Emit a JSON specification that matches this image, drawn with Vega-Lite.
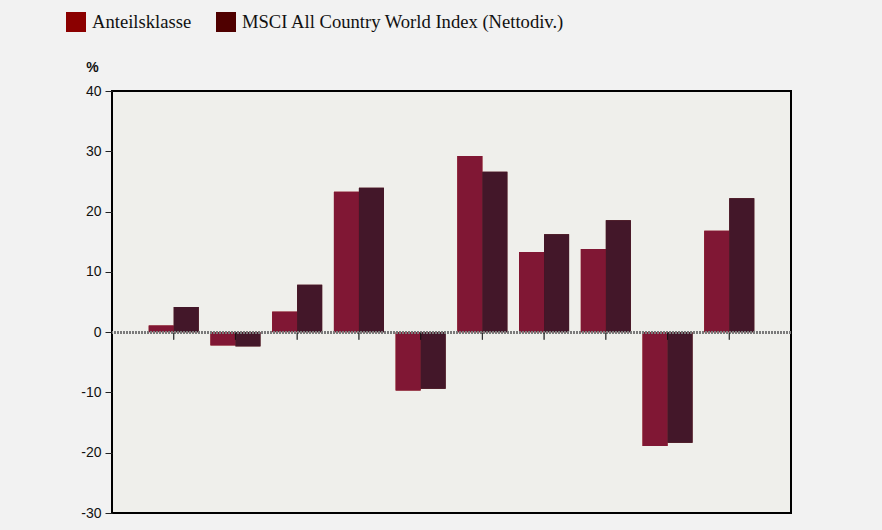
{
  "$schema": "https://vega.github.io/schema/vega-lite/v6.json",
  "width": 679,
  "height": 422,
  "autosize": "none",
  "padding": {"left": 112, "top": 91, "right": 91, "bottom": 17},
  "background": "#f2f2f2",
  "config": {
    "view": {"fill": "#efefeb", "stroke": "#000000", "strokeWidth": 2},
    "axis": {"grid": false}
  },
  "data": {
    "values": [
      {"year": "2014", "series": "Anteilsklasse", "value": 1.1},
      {"year": "2015", "series": "Anteilsklasse", "value": -2.2},
      {"year": "2016", "series": "Anteilsklasse", "value": 3.4},
      {"year": "2017", "series": "Anteilsklasse", "value": 23.3},
      {"year": "2018", "series": "Anteilsklasse", "value": -9.7},
      {"year": "2019", "series": "Anteilsklasse", "value": 29.2},
      {"year": "2020", "series": "Anteilsklasse", "value": 13.3},
      {"year": "2021", "series": "Anteilsklasse", "value": 13.8},
      {"year": "2022", "series": "Anteilsklasse", "value": -18.9},
      {"year": "2023", "series": "Anteilsklasse", "value": 16.8},
      {"year": "2014", "series": "MSCI All Country World Index (Nettodiv.)", "value": 4.16},
      {"year": "2015", "series": "MSCI All Country World Index (Nettodiv.)", "value": -2.36},
      {"year": "2016", "series": "MSCI All Country World Index (Nettodiv.)", "value": 7.86},
      {"year": "2017", "series": "MSCI All Country World Index (Nettodiv.)", "value": 23.97},
      {"year": "2018", "series": "MSCI All Country World Index (Nettodiv.)", "value": -9.41},
      {"year": "2019", "series": "MSCI All Country World Index (Nettodiv.)", "value": 26.6},
      {"year": "2020", "series": "MSCI All Country World Index (Nettodiv.)", "value": 16.25},
      {"year": "2021", "series": "MSCI All Country World Index (Nettodiv.)", "value": 18.54},
      {"year": "2022", "series": "MSCI All Country World Index (Nettodiv.)", "value": -18.36},
      {"year": "2023", "series": "MSCI All Country World Index (Nettodiv.)", "value": 22.2}
    ]
  },
  "encoding": {
    "x": {
      "field": "year",
      "type": "nominal",
      "scale": {"paddingInner": 0.19, "paddingOuter": 0.595},
      "axis": null
    },
    "y": {
      "field": "value",
      "type": "quantitative",
      "scale": {"domain": [-30, 40], "nice": false, "zero": false},
      "axis": {
        "values": [-30, -20, -10, 0, 10, 20, 30, 40],
        "labelExpr": "toString(datum.value)",
        "domain": false,
        "tickSize": 7,
        "tickColor": "#222222",
        "tickWidth": 1,
        "labelFont": "Liberation Sans",
        "labelFontSize": 14,
        "labelColor": "#111111",
        "labelPadding": 4,
        "title": "%",
        "titleAngle": 0,
        "titleFont": "Liberation Sans",
        "titleFontSize": 14,
        "titleFontWeight": "bold",
        "titleColor": "#111111",
        "titleAlign": "center",
        "titleBaseline": "alphabetic",
        "titleX": -20,
        "titleY": -20
      }
    },
    "xOffset": {
      "field": "series",
      "type": "nominal",
      "sort": ["Anteilsklasse", "MSCI All Country World Index (Nettodiv.)"],
      "scale": {"paddingInner": 0, "paddingOuter": 0}
    }
  },
  "layer": [
    {
      "mark": {"type": "bar", "strokeWidth": 0},
      "encoding": {
        "color": {
          "field": "series",
          "type": "nominal",
          "scale": {
            "domain": ["Anteilsklasse", "MSCI All Country World Index (Nettodiv.)"],
            "range": ["#8b0000", "#4f0000"]
          },
          "legend": {
            "title": null,
            "orient": "none",
            "direction": "horizontal",
            "legendX": -46,
            "legendY": -79,
            "padding": 0,
            "symbolType": "square",
            "symbolSize": 400,
            "symbolStrokeWidth": 0,
            "labelFont": "Liberation Serif",
            "labelFontSize": 18.6,
            "labelColor": "#111111",
            "labelOffset": 6,
            "labelLimit": 0,
            "columnPadding": 24
          }
        }
      }
    },
    {
      "mark": {
        "type": "bar",
        "strokeWidth": 0,
        "fill": {"expr": "datum.series === 'Anteilsklasse' ? '#801734' : '#431729'"}
      }
    },
    {
      "mark": {"type": "rule", "color": "#7a7a7a", "strokeWidth": 2.5, "strokeDash": [2, 1]},
      "encoding": {"y": {"datum": 0}, "x": null, "xOffset": null}
    },
    {
      "mark": {"type": "tick", "orient": "vertical", "size": 7, "thickness": 1, "yOffset": 4, "color": "#111111"},
      "encoding": {"y": {"datum": 0}, "xOffset": null}
    }
  ]
}
